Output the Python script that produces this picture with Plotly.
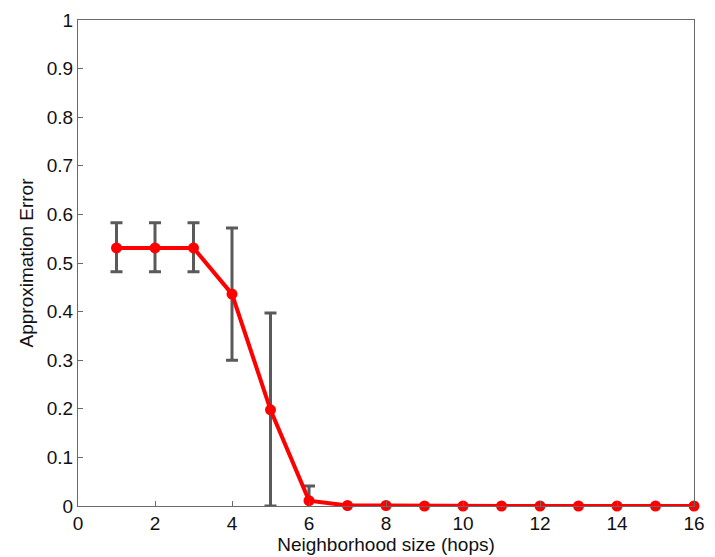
import plotly.graph_objects as go

hops = list(range(1, 17))
approx_error = [0.531, 0.531, 0.531, 0.436, 0.198, 0.011, 0.001, 0.001,
                0.0, 0.0, 0.0, 0.0, 0.0, 0.0, 0.0, 0.0]
error_plus = [0.052, 0.052, 0.052, 0.136, 0.199, 0.030, 0.0, 0.0,
              0.0, 0.0, 0.0, 0.0, 0.0, 0.0, 0.0, 0.0]
error_minus = [0.049, 0.049, 0.049, 0.136, 0.198, 0.030, 0.0, 0.0,
               0.0, 0.0, 0.0, 0.0, 0.0, 0.0, 0.0, 0.0]
x_ticks = [0, 2, 4, 6, 8, 10, 12, 14, 16]
y_ticks = [0, 0.1, 0.2, 0.3, 0.4, 0.5, 0.6, 0.7, 0.8, 0.9, 1]
y_tick_labels = ["0", "0.1", "0.2", "0.3", "0.4", "0.5", "0.6", "0.7", "0.8", "0.9", "1"]

FONT = "Liberation Sans, Arial, Helvetica, sans-serif"

fig = go.Figure()
# error bars (clipped to the axes box)
fig.add_trace(go.Scatter(
    x=hops, y=approx_error,
    mode="markers",
    marker=dict(color="rgba(0,0,0,0)", size=1),
    error_y=dict(type="data", symmetric=False, array=error_plus,
                 arrayminus=error_minus, color="#5a5a5a", thickness=3, width=6),
    cliponaxis=True,
    showlegend=False, hoverinfo="skip",
))
# line with markers (not clipped)
fig.add_trace(go.Scatter(
    x=hops, y=approx_error,
    mode="lines+markers",
    line=dict(color="#ff0000", width=4),
    marker=dict(color="#ff0000", size=11),
    cliponaxis=False,
    showlegend=False,
))

axis_common = dict(
    showgrid=False, zeroline=False, showline=True, mirror=True,
    linecolor="#6a6a6a", linewidth=1.2,
    ticks="inside", ticklen=5, tickcolor="#6a6a6a", tickwidth=1.2,
    tickfont=dict(family=FONT, size=19, color="#111"),
)

fig.update_xaxes(
    range=[0, 16], tickvals=x_ticks, ticktext=[str(v) for v in x_ticks],
    title=dict(text="Neighborhood size (hops)", standoff=0,
               font=dict(family=FONT, size=19, color="#111")),
    **axis_common,
)
fig.update_yaxes(
    range=[0, 1], tickvals=y_ticks, ticktext=y_tick_labels,
    title=dict(text="Approximation Error", standoff=8,
               font=dict(family=FONT, size=19, color="#111")),
    **axis_common,
)

fig.update_layout(
    width=715, height=557,
    margin=dict(l=78, r=10, t=14, b=50),
    plot_bgcolor="white", paper_bgcolor="white",
)

fig.write_html("out.html")
